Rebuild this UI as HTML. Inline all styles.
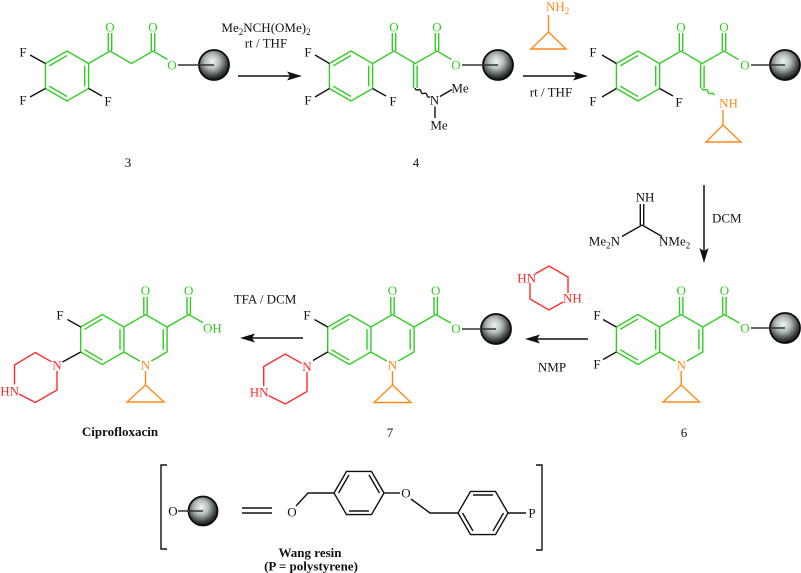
<!DOCTYPE html>
<html><head><meta charset="utf-8"><style>
html,body{margin:0;padding:0;background:#fff;}
svg{display:block;}
text{font-family:"Liberation Serif",serif;font-size:13px;}
.g{stroke:#33cc22;fill:none;stroke-width:1.4;}
.o{stroke:#ff8a1c;fill:none;stroke-width:1.4;}
.r{stroke:#ff2a2a;fill:none;stroke-width:1.4;}
.k{stroke:#111;fill:none;stroke-width:1.4;}
.tg{fill:#33cc22;} .to{fill:#ff8a1c;} .tr{fill:#ff2a2a;} .tk{fill:#111;}
.b{font-weight:bold;}
</style></head><body>
<svg width="801" height="573" viewBox="0 0 801 573" xmlns="http://www.w3.org/2000/svg">
<defs>
<radialGradient id="ball" cx="44%" cy="38%" r="62%">
<stop offset="0" stop-color="#f2f5f4"/>
<stop offset="0.4" stop-color="#b3bcb9"/>
<stop offset="0.78" stop-color="#434947"/>
<stop offset="1" stop-color="#111313"/>
</radialGradient>
</defs>
<rect width="801" height="573" fill="#fff"/>

<!-- ===== Compound 3 ===== -->
<polygon class="g" points="67,51 88.6,63.5 88.6,88.5 67,101 45.4,88.5 45.4,63.5"/>
<path class="g" d="M49.3,65.75 L67,55.5 M84.7,65.75 L84.7,86.25 M67,96.5 L49.3,86.25"/>
<path class="k" d="M45.4,63.5 L30,55 M45.4,88.5 L30,97 M88.6,88.5 L102,96"/>
<text x="23" y="56.5" text-anchor="middle" class="tk">F</text>
<text x="23" y="104.5" text-anchor="middle" class="tk">F</text>
<text x="108" y="105.5" text-anchor="middle" class="tk">F</text>
<path class="g" d="M88.6,63.5 L110,51 L131.6,63.5 L153,51 L167.5,59.5 M108.3,51 L108.3,33 M111.7,51 L111.7,33 M151.3,51 L151.3,33 M154.7,51 L154.7,33"/>
<text x="110" y="31.5" text-anchor="middle" class="tg">O</text>
<text x="153" y="31.5" text-anchor="middle" class="tg">O</text>
<text x="172" y="69.5" text-anchor="middle" class="tg">O</text>
<circle cx="214" cy="65" r="15" fill="url(#ball)" stroke="#0c0c0c" stroke-width="1.8"/>
<path d="M178,65 L214,65" stroke="#333" stroke-width="1.4"/>
<text x="128" y="167" text-anchor="middle" class="tk">3</text>

<!-- Arrow 1 -->
<path d="M238,76 L290,76" stroke="#111" stroke-width="1.5"/>
<polygon points="302,76 287,71.5 290,76 287,80.5" fill="#111"/>
<text x="266" y="32" text-anchor="middle" class="tk">Me<tspan font-size="9" dy="3">2</tspan><tspan dy="-3">NCH(OMe)</tspan><tspan font-size="9" dy="3">2</tspan></text>
<text x="266" y="47.5" text-anchor="middle" class="tk">rt / THF</text>

<!-- ===== Compound 4 ===== -->
<polygon class="g" points="351,51 372.6,63.5 372.6,88.5 351,101 329.4,88.5 329.4,63.5"/>
<path class="g" d="M333.3,65.75 L351,55.5 M368.7,65.75 L368.7,86.25 M351,96.5 L333.3,86.25"/>
<path class="k" d="M329.4,63.5 L315,55 M329.4,88.5 L315,97 M372.6,88.5 L386,96"/>
<text x="308" y="56.5" text-anchor="middle" class="tk">F</text>
<text x="308" y="104.5" text-anchor="middle" class="tk">F</text>
<text x="393" y="105.5" text-anchor="middle" class="tk">F</text>
<path class="g" d="M372.6,63.5 L394,51 L415.3,63.5 L437,51 L451.5,59.5 M392.3,51 L392.3,33 M395.7,51 L395.7,33 M435.3,51 L435.3,33 M438.7,51 L438.7,33 M413.6,63.5 L413.6,88 M417.1,65.5 L417.1,88"/>
<text x="394" y="31.5" text-anchor="middle" class="tg">O</text>
<text x="437" y="31.5" text-anchor="middle" class="tg">O</text>
<text x="456" y="69.5" text-anchor="middle" class="tg">O</text>
<path class="k" stroke-width="1.1" d="M415,88 q0.5,2.6 3,1.8 q2.5,-0.8 3,1.8 q0.5,2.6 3,1.8 q2.5,-0.8 3,1.8 q0.5,2.6 3,1.8"/>
<text x="434.5" y="104.5" text-anchor="middle" class="tk">N</text>
<path class="k" d="M440,96.5 L452,89.5 M435,106.5 L435,118"/>
<text x="460" y="92.5" text-anchor="middle" class="tk">Me</text>
<text x="439" y="129.5" text-anchor="middle" class="tk">Me</text>
<circle cx="498" cy="65" r="15" fill="url(#ball)" stroke="#0c0c0c" stroke-width="1.8"/>
<path d="M462,65 L498,65" stroke="#333" stroke-width="1.4"/>
<text x="416" y="167" text-anchor="middle" class="tk">4</text>

<!-- Arrow 2 -->
<path d="M523,76 L576,76" stroke="#111" stroke-width="1.5"/>
<polygon points="588,76 573,71.5 576,76 573,80.5" fill="#111"/>
<text x="546" y="11" class="to">NH<tspan font-size="9" dy="3">2</tspan></text>
<path class="o" d="M548.5,15 L548.5,32"/>
<polygon class="o" points="548.5,32 531,49 566,49"/>
<text x="551" y="96.5" text-anchor="middle" class="tk">rt / THF</text>

<!-- ===== Compound 5 ===== -->
<polygon class="g" points="638,51 659.6,63.5 659.6,88.5 638,101 616.4,88.5 616.4,63.5"/>
<path class="g" d="M620.3,65.75 L638,55.5 M655.7,65.75 L655.7,86.25 M638,96.5 L620.3,86.25"/>
<path class="k" d="M616.4,63.5 L602,55 M616.4,88.5 L602,97 M659.6,88.5 L673,96"/>
<text x="593" y="56.5" text-anchor="middle" class="tk">F</text>
<text x="593" y="105.5" text-anchor="middle" class="tk">F</text>
<text x="679" y="106.5" text-anchor="middle" class="tk">F</text>
<path class="g" d="M659.6,63.5 L681,51 L702.3,63.5 L724,51 L738.5,59.5 M679.3,51 L679.3,33 M682.7,51 L682.7,33 M722.3,51 L722.3,33 M725.7,51 L725.7,33 M700.6,63.5 L700.6,88 M704.1,65.5 L704.1,88"/>
<text x="681" y="31.5" text-anchor="middle" class="tg">O</text>
<text x="724" y="31.5" text-anchor="middle" class="tg">O</text>
<text x="745" y="69.5" text-anchor="middle" class="tg">O</text>
<path class="g" stroke-width="1.1" d="M702,88 q0.5,2.6 3,1.8 q2.5,-0.8 3,1.8 q0.5,2.6 3,1.8 q2.5,-0.8 3,1.8"/>
<text x="728.5" y="107.5" text-anchor="middle" class="to">NH</text>
<path class="o" d="M723,110 L723,125"/>
<polygon class="o" points="723,125 706,142 741,142"/>
<circle cx="785" cy="65" r="15" fill="url(#ball)" stroke="#0c0c0c" stroke-width="1.8"/>
<path d="M751,65 L785,65" stroke="#333" stroke-width="1.4"/>

<!-- Down arrow + guanidine -->
<path d="M704,185 L704,251" stroke="#111" stroke-width="1.5"/>
<polygon points="704,263 699.5,248 704,251 708.5,248" fill="#111"/>
<text x="712" y="222.5" class="tk">DCM</text>
<text x="645" y="201.5" text-anchor="middle" class="tk">NH</text>
<path class="k" d="M640.3,225 L640.3,204 M643.7,225 L643.7,204 M642,225 L622,236.5 M642,225 L662,236.5"/>
<text x="620" y="245.5" text-anchor="end" class="tk">Me<tspan font-size="9" dy="3">2</tspan><tspan dy="-3">N</tspan></text>
<text x="659" y="245.5" class="tk">NMe<tspan font-size="9" dy="3">2</tspan></text>

<!-- ===== Compound 6 ===== -->
<polygon class="g" points="638,314.5 659.6,327 659.6,352 638,364.5 616.4,352 616.4,327"/>
<path class="g" d="M620.3,329.25 L638,318.95 M655.7,329.25 L655.7,349.75 M638,360.05 L620.3,349.75"/>
<path class="g" d="M659.6,327 L681.2,314.5 L702.8,327 L702.8,352 L687,361 M659.6,352 L675.4,361 M698.9,329.25 L698.9,349.75"/>
<path class="g" d="M679.5,314.5 L679.5,297 M682.9,314.5 L682.9,297 M702.8,327 L724.4,314.5 L739.5,323 M722.7,314.5 L722.7,297 M726.1,314.5 L726.1,297"/>
<text x="681.2" y="295" text-anchor="middle" class="tg">O</text>
<text x="724.4" y="295" text-anchor="middle" class="tg">O</text>
<text x="745" y="332.5" text-anchor="middle" class="tg">O</text>
<path class="k" d="M616.4,327 L603,319.5 M616.4,352 L603,359.5"/>
<text x="597" y="319.5" text-anchor="middle" class="tk">F</text>
<text x="597" y="368.5" text-anchor="middle" class="tk">F</text>
<text x="681.2" y="369.5" text-anchor="middle" class="to">N</text>
<path class="o" d="M681.2,371 L681.2,385"/>
<polygon class="o" points="681.2,385 663,402 699.5,402"/>
<circle cx="785" cy="328" r="15" fill="url(#ball)" stroke="#0c0c0c" stroke-width="1.8"/>
<path d="M751,328 L785,328" stroke="#333" stroke-width="1.4"/>
<text x="684" y="437" text-anchor="middle" class="tk">6</text>

<!-- NMP arrow + piperazine reagent -->
<path d="M588,339 L537,339" stroke="#111" stroke-width="1.5"/>
<polygon points="525,339 540,334.5 537,339 540,343.5" fill="#111"/>
<text x="552" y="371.5" text-anchor="middle" class="tk">NMP</text>
<path class="r" d="M535,274 L549,266 L568,277 L568,293 M563,302 L549,310 L530,299 L530,283"/>
<text x="536" y="282.5" text-anchor="end" class="tr">HN</text>
<text x="563" y="302.5" class="tr">NH</text>

<!-- ===== Compound 7 ===== -->
<polygon class="g" points="349.3,314.5 370.9,327 370.9,352 349.3,364.5 327.7,352 327.7,327"/>
<path class="g" d="M331.6,329.25 L349.3,318.95 M367,329.25 L367,349.75 M349.3,360.05 L331.6,349.75"/>
<path class="g" d="M370.9,327 L392.5,314.5 L414.1,327 L414.1,352 L398.3,361 M370.9,352 L386.7,361 M410.2,329.25 L410.2,349.75"/>
<path class="g" d="M390.8,314.5 L390.8,297 M394.2,314.5 L394.2,297 M414.1,327 L435.7,314.5 L450.8,323 M434,314.5 L434,297 M437.4,314.5 L437.4,297"/>
<text x="392.5" y="295" text-anchor="middle" class="tg">O</text>
<text x="435.7" y="295" text-anchor="middle" class="tg">O</text>
<text x="456" y="333" text-anchor="middle" class="tg">O</text>
<path class="k" d="M327.7,327 L314.5,319.5 M327.7,352 L313,360.5"/>
<text x="307" y="319.5" text-anchor="middle" class="tk">F</text>
<text x="307" y="371" text-anchor="middle" class="tr">N</text>
<path class="r" d="M301.5,363.3 L285.3,354 L263.7,366.5 L263.7,386 M268.5,395.5 L285.3,404 L307,391.5 L307,372"/>
<text x="268.5" y="396.5" text-anchor="end" class="tr">HN</text>
<text x="392.5" y="369.5" text-anchor="middle" class="to">N</text>
<path class="o" d="M392.5,371 L392.5,385"/>
<polygon class="o" points="392.5,385 374,402.5 411,402.5"/>
<circle cx="496" cy="329" r="15" fill="url(#ball)" stroke="#0c0c0c" stroke-width="1.8"/>
<path d="M462,329 L496,329" stroke="#333" stroke-width="1.4"/>
<text x="390" y="437" text-anchor="middle" class="tk">7</text>

<!-- TFA arrow -->
<path d="M303,338 L252,338" stroke="#111" stroke-width="1.5"/>
<polygon points="240,338 255,333.5 252,338 255,342.5" fill="#111"/>
<text x="265" y="303.5" text-anchor="middle" class="tk">TFA / DCM</text>

<!-- ===== Ciprofloxacin ===== -->
<polygon class="g" points="102.3,314.5 123.9,327 123.9,352 102.3,364.5 80.7,352 80.7,327"/>
<path class="g" d="M84.6,329.25 L102.3,318.95 M120,329.25 L120,349.75 M102.3,360.05 L84.6,349.75"/>
<path class="g" d="M123.9,327 L145.5,314.5 L167.1,327 L167.1,352 L151.3,361 M123.9,352 L139.7,361 M163.2,329.25 L163.2,349.75"/>
<path class="g" d="M143.8,314.5 L143.8,297 M147.2,314.5 L147.2,297 M167.1,327 L188.7,314.5 L203,322.7 M187,314.5 L187,297 M190.4,314.5 L190.4,297"/>
<text x="145.5" y="295" text-anchor="middle" class="tg">O</text>
<text x="188.7" y="295" text-anchor="middle" class="tg">O</text>
<text x="203" y="332.5" class="tg">OH</text>
<path class="k" d="M80.7,327 L67.5,319.5 M80.7,352 L62.5,362"/>
<text x="60" y="319.5" text-anchor="middle" class="tk">F</text>
<text x="57" y="369.5" text-anchor="middle" class="tr">N</text>
<path class="r" d="M51.5,361.8 L35.3,352.5 L14.5,365 L14.5,384.5 M19,394 L35.3,402.5 L57,390 L57,371"/>
<text x="19" y="395.5" text-anchor="end" class="tr">HN</text>
<text x="145.5" y="369.5" text-anchor="middle" class="to">N</text>
<path class="o" d="M145.5,371 L145.5,385"/>
<polygon class="o" points="145.5,385 127,402 164,402"/>
<text x="120" y="436" text-anchor="middle" class="tk b" font-size="14">Ciprofloxacin</text>

<!-- ===== Wang resin ===== -->
<path class="k" d="M167,465 L161,465 L161,549 L167,549 M536,465 L542,465 L542,550 L536,550"/>
<text x="173" y="515.5" text-anchor="middle" class="tk">O</text>
<circle cx="203" cy="511" r="14.5" fill="url(#ball)" stroke="#0c0c0c" stroke-width="1.8"/>
<path d="M178,511 L203,511" stroke="#333" stroke-width="1.4"/>
<path class="k" d="M242,508 L272,508 M242,513 L272,513"/>
<text x="292" y="516.5" text-anchor="middle" class="tk">O</text>
<path class="k" d="M296,506 L308,493 L334,493"/>
<polygon class="k" points="334,493 346.5,471.4 371.5,471.4 384,493 371.5,514.6 346.5,514.6"/>
<path class="k" d="M338.5,493 L349,474.9 M368.9,474.9 L379.5,493 M368.9,511 L349,511"/>
<path class="k" d="M384,493 L400,493"/>
<text x="406" y="497.5" text-anchor="middle" class="tk">O</text>
<path class="k" d="M411,499 L430,513 L458,513"/>
<polygon class="k" points="458,513 470.5,491.4 495.5,491.4 508,513 495.5,534.6 470.5,534.6"/>
<path class="k" d="M473,495 L493,495 M503.5,513 L493,531 M473,531 L462.5,513"/>
<path class="k" d="M508,513 L526,513"/>
<text x="532" y="517.5" text-anchor="middle" class="tk">P</text>
<text x="310" y="557" text-anchor="middle" class="tk b" font-size="14">Wang resin</text>
<text x="311" y="570.5" text-anchor="middle" class="tk b">(P = polystyrene)</text>
</svg>
</body></html>
